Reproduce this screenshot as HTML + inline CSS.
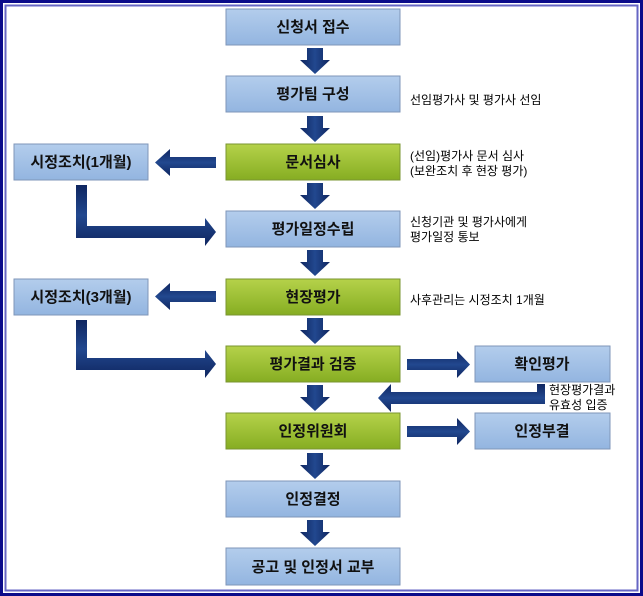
<!DOCTYPE html>
<html><head><meta charset="utf-8"><style>
html,body{margin:0;padding:0;background:#fff;}
svg{display:block;}
text{font-family:"Liberation Sans","Noto Sans CJK KR",sans-serif;}
.b{font-weight:bold;font-size:15px;fill:#111;}
.n{font-size:12px;fill:#000;}
</style></head><body>
<svg width="643" height="596" viewBox="0 0 643 596" xmlns="http://www.w3.org/2000/svg">
<defs>
<linearGradient id="bl" x1="0" y1="0" x2="0" y2="1"><stop offset="0" stop-color="#b3cdec"/><stop offset="1" stop-color="#93b5e0"/></linearGradient>
<linearGradient id="gr" x1="0" y1="0" x2="0" y2="1"><stop offset="0" stop-color="#b5d24a"/><stop offset="1" stop-color="#86ad22"/></linearGradient>
<linearGradient id="ar" x1="0" y1="0" x2="1" y2="0"><stop offset="0" stop-color="#0f2660"/><stop offset="0.5" stop-color="#22488f"/><stop offset="1" stop-color="#0f2660"/></linearGradient>
<linearGradient id="ah" x1="0" y1="0" x2="0" y2="1"><stop offset="0" stop-color="#0f2660"/><stop offset="0.5" stop-color="#22488f"/><stop offset="1" stop-color="#0f2660"/></linearGradient>
</defs>
<rect x="1.5" y="1.5" width="640" height="593" fill="none" stroke="#0b0b8a" stroke-width="3"/>
<rect x="5.5" y="5.5" width="632" height="585" fill="none" stroke="#6666c4" stroke-width="2"/>

<g stroke="#7f96b8" stroke-width="1">
<rect x="226" y="9" width="174" height="36" fill="url(#bl)"/>
<rect x="226" y="76" width="174" height="36" fill="url(#bl)"/>
<rect x="226" y="144" width="174" height="36" fill="url(#gr)" stroke="#7a9530"/>
<rect x="226" y="211" width="174" height="36" fill="url(#bl)"/>
<rect x="226" y="279" width="174" height="36" fill="url(#gr)" stroke="#7a9530"/>
<rect x="226" y="346" width="174" height="36" fill="url(#gr)" stroke="#7a9530"/>
<rect x="226" y="413" width="174" height="36" fill="url(#gr)" stroke="#7a9530"/>
<rect x="226" y="481" width="174" height="36" fill="url(#bl)"/>
<rect x="226" y="548" width="174" height="37" fill="url(#bl)"/>
<rect x="14" y="144" width="134" height="36" fill="url(#bl)"/>
<rect x="14" y="279" width="134" height="36" fill="url(#bl)"/>
<rect x="475" y="346" width="135" height="36" fill="url(#bl)"/>
<rect x="475" y="413" width="135" height="36" fill="url(#bl)"/>
</g>

<g class="b" text-anchor="middle">
<text x="313" y="32">신청서 접수</text>
<text x="313" y="99">평가팀 구성</text>
<text x="313" y="167">문서심사</text>
<text x="313" y="234">평가일정수립</text>
<text x="313" y="302">현장평가</text>
<text x="313" y="369">평가결과 검증</text>
<text x="313" y="436">인정위원회</text>
<text x="313" y="504">인정결정</text>
<text x="313" y="572">공고 및 인정서 교부</text>
<text x="81" y="167">시정조치(1개월)</text>
<text x="81" y="302">시정조치(3개월)</text>
<text x="542" y="369">확인평가</text>
<text x="542" y="436">인정부결</text>
</g>

<g class="n">
<text x="410" y="104">선임평가사 및 평가사 선임</text>
<text x="410" y="160">(선임)평가사 문서 심사</text>
<text x="410" y="175">(보완조치 후 현장 평가)</text>
<text x="410" y="226">신청기관 및 평가사에게</text>
<text x="410" y="241">평가일정 통보</text>
<text x="410" y="304">사후관리는 시정조치 1개월</text>
<text x="549" y="394">현장평가결과</text>
<text x="549" y="409">유효성 입증</text>
</g>

<g fill="url(#ar)">
<path d="M307 48h16v12h7l-15 14l-15-14h7z"/>
<path d="M307 116h16v12h7l-15 14l-15-14h7z"/>
<path d="M307 183h16v12h7l-15 14l-15-14h7z"/>
<path d="M307 250h16v12h7l-15 14l-15-14h7z"/>
<path d="M307 318h16v12h7l-15 14l-15-14h7z"/>
<path d="M307 385h16v12h7l-15 14l-15-14h7z"/>
<path d="M307 453h16v12h7l-15 14l-15-14h7z"/>
<path d="M307 520h16v12h7l-15 14l-15-14h7z"/>
</g>
<g fill="url(#ah)">
<path d="M216 157v11h-46v8l-15-13.5l15-13.5v8z"/>
<path d="M216 291v11h-46v8l-15-13.5l15-13.5v8z"/>
<path d="M76 185h11v41h118v-8l11 14l-11 14v-8h-129z"/>
<path d="M76 320h11v38h118v-8l11 14l-11 14v-8h-129z"/>
<path d="M407 359v11h50v8l13-13.5l-13-13.5v8z"/>
<path d="M407 426v11h50v8l13-13.5l-13-13.5v8z"/>
<path d="M537 384h8v20h-154v8l-13-14l13-14v8h146z"/>
</g>
</svg>
</body></html>
